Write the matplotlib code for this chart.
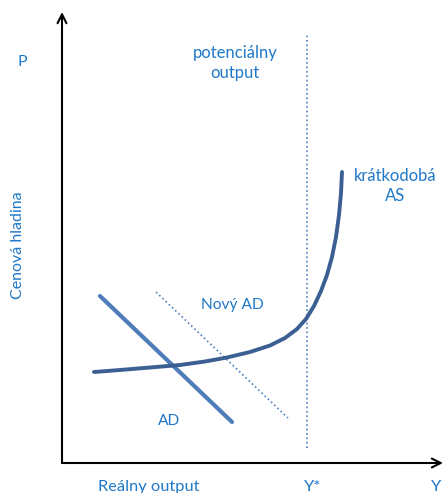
import matplotlib.pyplot as plt

# 坐标：原点在两条坐标轴的交点
as_x = [32, 58, 88, 118, 143, 165, 188, 208, 223, 235, 244, 252, 259, 265, 270, 274, 277, 279, 280]
as_y = [91, 93, 95.5, 98, 101.5, 105.5, 111, 117.5, 125, 134, 144, 157, 172, 188, 206, 226, 248, 270, 291]
ad_x = [38, 170]
ad_y = [167, 41]
novy_ad_x = [94, 226]
novy_ad_y = [171, 45]
y_star = 245
y_star_range = [15, 428]
axis_top = 451
axis_right = 381

txt_blue = '#1f78c8'
plt.rcParams['font.family'] = ['Lato', 'DejaVu Sans']

fig = plt.figure(figsize=(4.43, 4.93), dpi=100)
ax = fig.add_axes([0, 0, 1, 1])
ax.set_xlim(-62, 381)
ax.set_ylim(-30, 463)
ax.axis('off')

# 坐标轴箭头
arr = dict(arrowstyle='->', lw=1.5, color='black', mutation_scale=16, shrinkA=0, shrinkB=0)
ax.annotate('', xy=(0, axis_top), xytext=(0, 0), arrowprops=arr)
ax.annotate('', xy=(axis_right, 0), xytext=(0, 0), arrowprops=arr)

# 潜在产出
ax.plot([y_star, y_star], y_star_range, ':', color='#4f81bd', lw=1.2)
# 曲线
ax.plot(novy_ad_x, novy_ad_y, ':', color='#4f81bd', lw=1.2)
ax.plot(ad_x, ad_y, '-', color='#4f7dba', lw=3, solid_capstyle='round')
ax.plot(as_x, as_y, '-', color='#3b5f92', lw=2.8, solid_capstyle='round', solid_joinstyle='round')

ax.text(-40, 401, 'P', color=txt_blue, fontsize=11.5, ha='center', va='center')
ax.text(-44, 218, 'Cenová hladina', color=txt_blue, fontsize=11.5, rotation=90, ha='center', va='center')
ax.text(173, 400, 'potenciálny\noutput', color=txt_blue, fontsize=12, ha='center', va='center', linespacing=1.3)
ax.text(333, 277, 'krátkodobá\nAS', color=txt_blue, fontsize=12, ha='center', va='center', linespacing=1.3)
ax.text(170, 158, 'Nový AD', color=txt_blue, fontsize=11.2, ha='center', va='center')
ax.text(107, 42, 'AD', color=txt_blue, fontsize=11.2, ha='center', va='center')
ax.text(87, -24, 'Reálny output', color=txt_blue, fontsize=11.8, ha='center', va='center')
ax.text(251, -24, 'Y*', color=txt_blue, fontsize=11.8, ha='center', va='center')
ax.text(374, -24, 'Y', color=txt_blue, fontsize=11.8, ha='center', va='center')

fig.savefig('out.png', dpi=100)
